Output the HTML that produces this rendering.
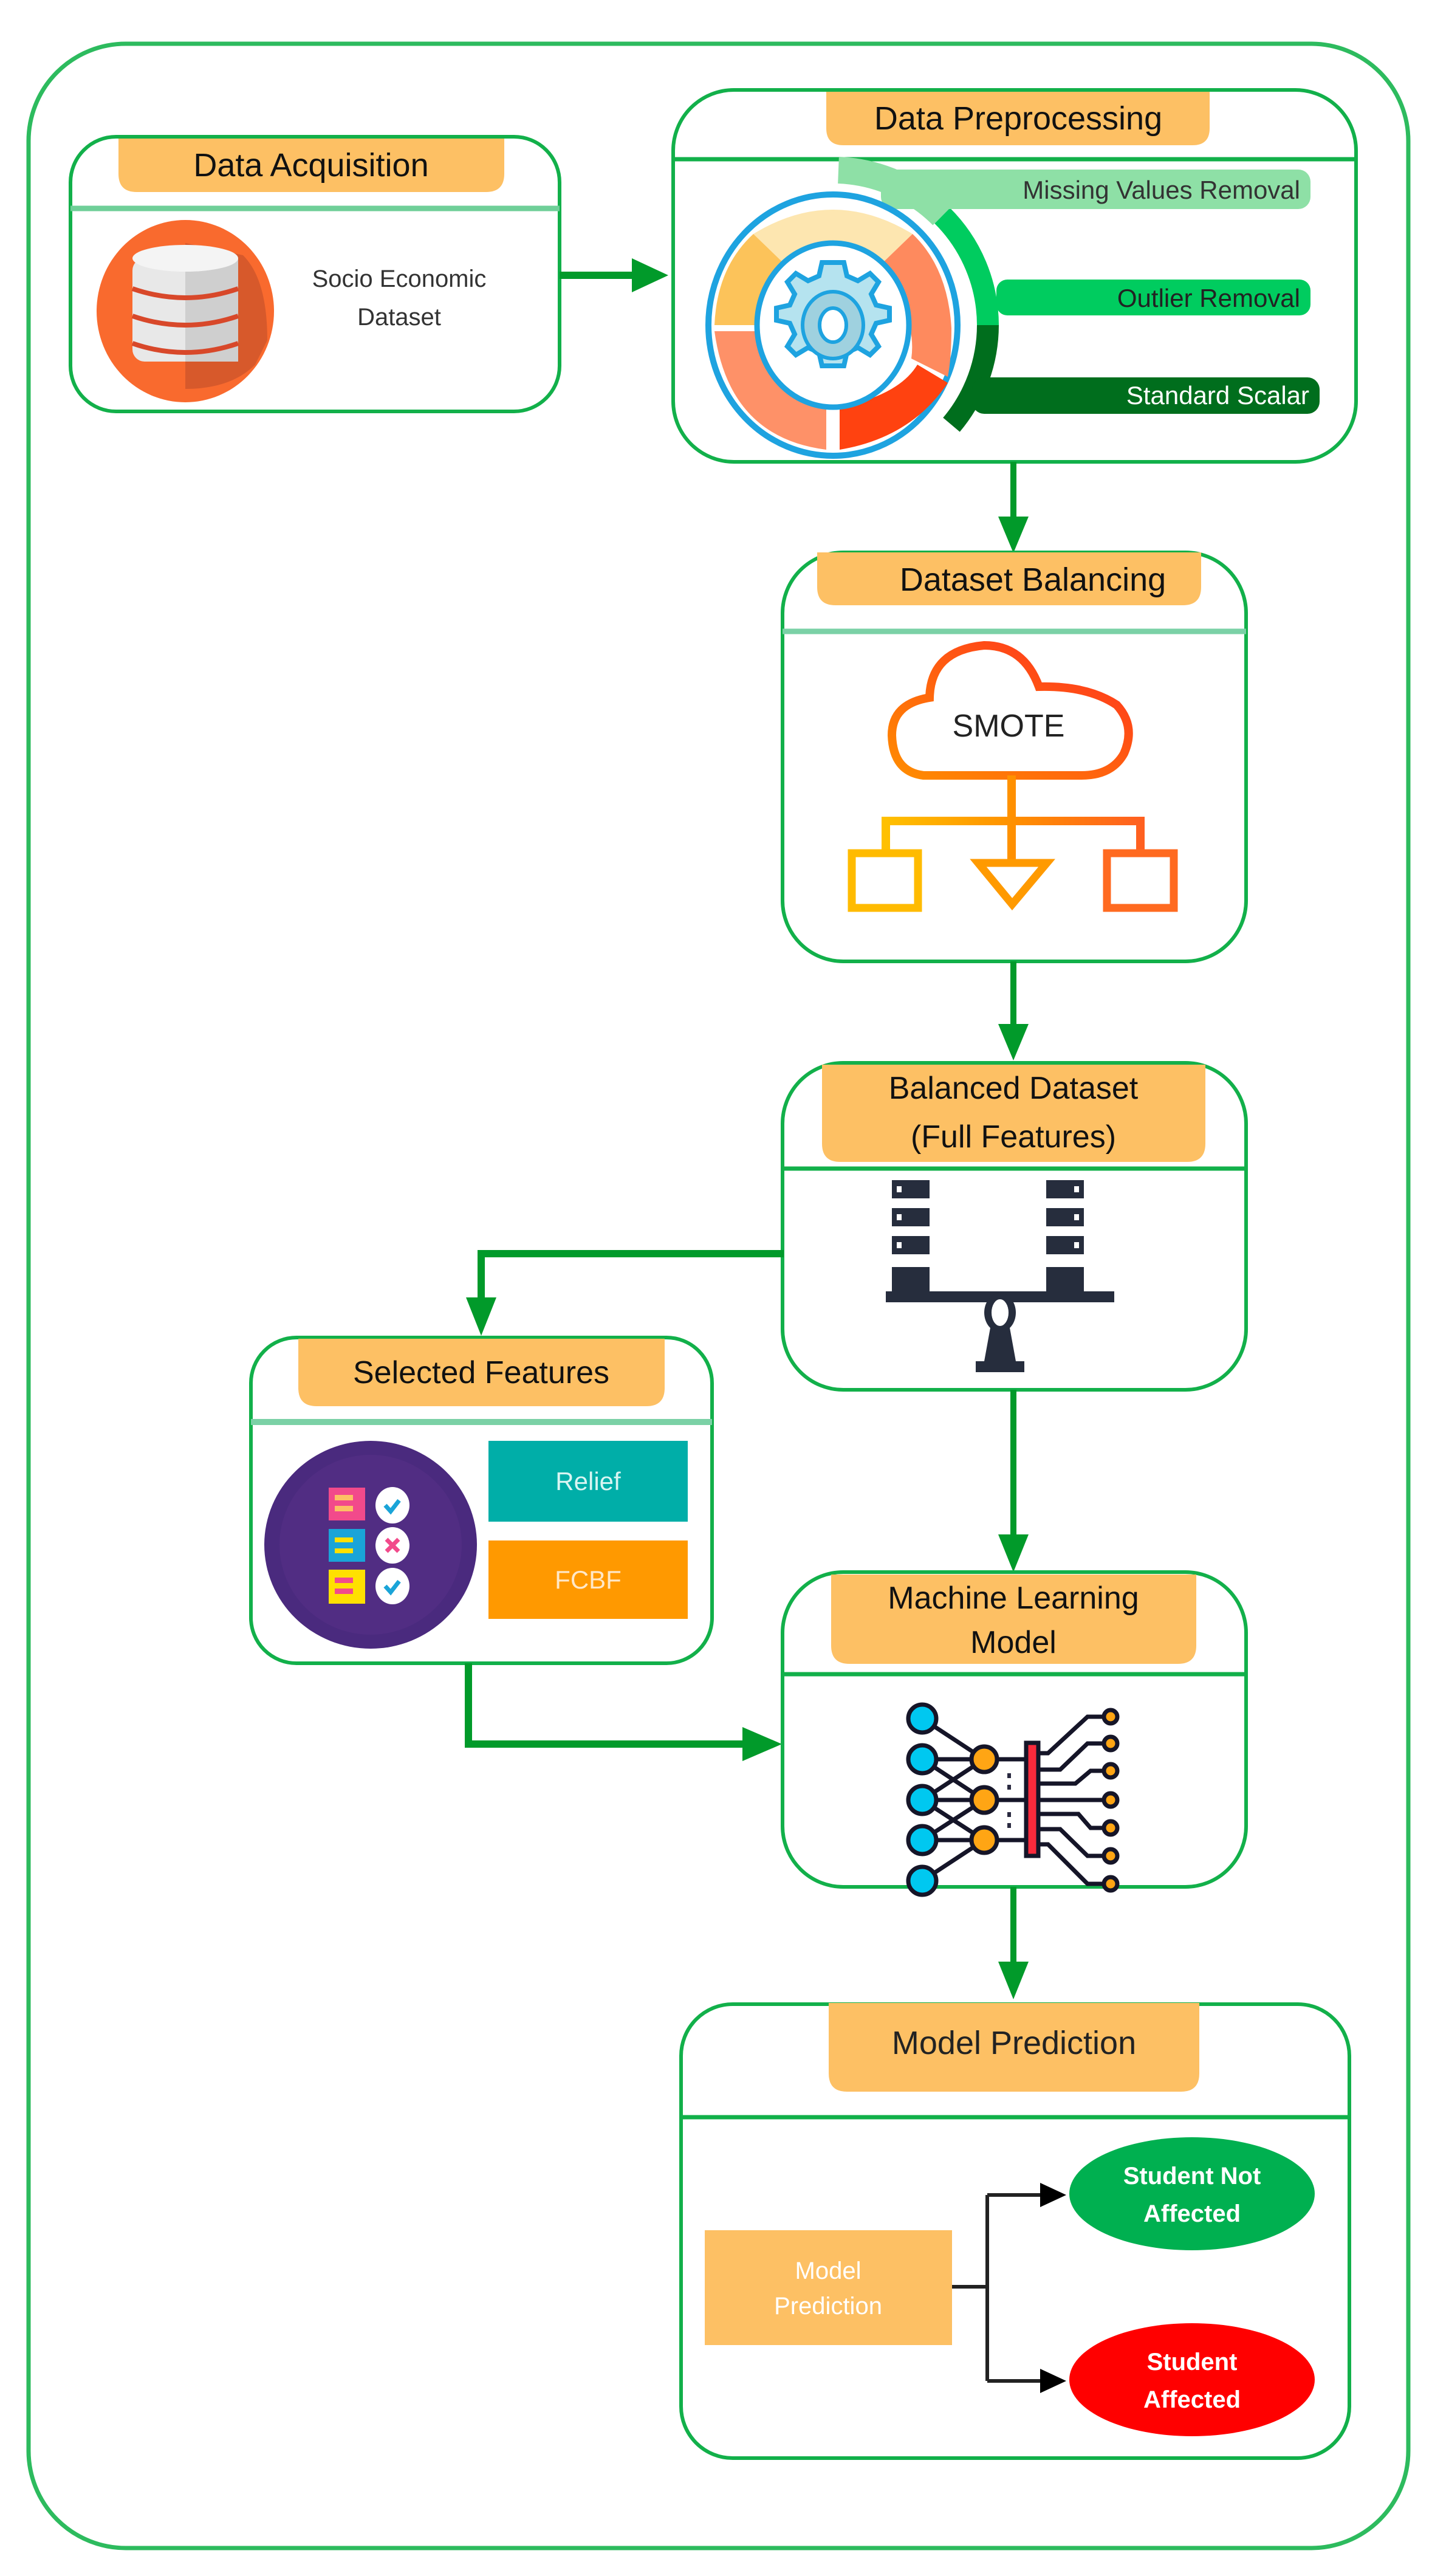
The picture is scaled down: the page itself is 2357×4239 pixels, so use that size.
<!DOCTYPE html>
<html><head><meta charset="utf-8"><style>
html,body{margin:0;padding:0;background:#fff}
svg{display:block}
text{font-family:"Liberation Sans",sans-serif}
</style></head><body>
<svg width="2357" height="4239" viewBox="0 0 2357 4239" xmlns="http://www.w3.org/2000/svg">
<defs>
<linearGradient id="cg" x1="0" y1="1" x2="1" y2="0"><stop offset="0" stop-color="#ff8c00"/><stop offset="1" stop-color="#ff3020"/></linearGradient>
<linearGradient id="tg" x1="0" y1="0" x2="1" y2="0"><stop offset="0" stop-color="#ffc000"/><stop offset="0.5" stop-color="#ff9000"/><stop offset="1" stop-color="#ff6020"/></linearGradient>
</defs>
<rect x="0" y="0" width="2357" height="4239" fill="#fff"/>
<!-- outer -->
<rect x="47" y="72" width="2271" height="4121" rx="160" fill="none" stroke="#2dbb5e" stroke-width="7"/>

<!-- Data Acquisition -->
<rect x="116" y="225" width="805" height="452" rx="75" fill="#fff" stroke="#12b04a" stroke-width="6"/>
<line x1="116" y1="343" x2="921" y2="343" stroke="#6fcf98" stroke-width="9"/>
<path d="M195,228 H830 V286 Q830,316 800,316 H225 Q195,316 195,286 Z" fill="#fdc064"/>
<text x="512" y="290" font-size="54" text-anchor="middle" fill="#111">Data Acquisition</text>
<ellipse cx="305" cy="512" rx="146" ry="150" fill="#f96a2e"/>
<path d="M305,400 V640 Q380,640 420,600 L440,560 Q440,460 400,420 Z" fill="#c9522b" opacity="0.7"/>
<g>
<rect x="218" y="425" width="174" height="170" rx="20" fill="#e8e8e8"/>
<rect x="305" y="425" width="87" height="170" fill="#cfcfcf"/>
<ellipse cx="305" cy="425" rx="87" ry="22" fill="#f4f4f4"/>
<path d="M218,475 Q305,505 392,475" stroke="#d8482a" stroke-width="8" fill="none"/>
<path d="M218,520 Q305,550 392,520" stroke="#d8482a" stroke-width="8" fill="none"/>
<path d="M218,565 Q305,595 392,565" stroke="#d8482a" stroke-width="8" fill="none"/>
</g>
<text x="657" y="472" font-size="40" text-anchor="middle" fill="#333">Socio Economic</text>
<text x="657" y="535" font-size="40" text-anchor="middle" fill="#333">Dataset</text>
<line x1="921" y1="453" x2="1045" y2="453" stroke="#019a2a" stroke-width="12"/>
<path d="M1040,425 L1100,453 L1040,481 Z" fill="#019a2a"/>

<!-- Data Preprocessing -->
<rect x="1108" y="148" width="1124" height="612" rx="100" fill="#fff" stroke="#12b04a" stroke-width="6"/>
<line x1="1108" y1="262" x2="2232" y2="262" stroke="#12b04a" stroke-width="7"/>
<path d="M1360,151 H1991 V211 Q1991,239 1963,239 H1388 Q1360,239 1360,211 Z" fill="#fdc064"/>
<text x="1676" y="213" font-size="54" text-anchor="middle" fill="#111">Data Preprocessing</text>
<!-- arcs -->
<path d="M1380,280 A255,255 0 0 1 1551,355" stroke="#8ee0a6" stroke-width="44" fill="none"/>
<path d="M1551,355 A255,255 0 0 1 1626,535" stroke="#00cc5f" stroke-width="36" fill="none"/>
<path d="M1626,535 A255,255 0 0 1 1566,699" stroke="#006e1d" stroke-width="36" fill="none"/>
<!-- bars -->
<rect x="1450" y="279" width="707" height="65" rx="20" fill="#8ee0a6"/>
<text x="2140" y="327" font-size="42" text-anchor="end" fill="#333">Missing Values Removal</text>
<rect x="1640" y="460" width="517" height="59" rx="18" fill="#00cc5f"/>
<text x="2140" y="505" font-size="42" text-anchor="end" fill="#222">Outlier Removal</text>
<rect x="1600" y="621" width="572" height="60" rx="20" fill="#006e1d"/>
<text x="2155" y="665" font-size="42" text-anchor="end" fill="#fff">Standard Scalar</text>
<!-- gear donut -->
<ellipse cx="1371" cy="535" rx="205" ry="215" fill="#fff" stroke="#1ea3e0" stroke-width="10"/>
<path d="M1240,385 Q1371,305 1502,385 L1445,440 Q1371,395 1297,440 Z" fill="#fde6b0"/>
<path d="M1240,385 L1297,440 Q1245,495 1250,535 H1176 Q1180,440 1240,385 Z" fill="#fcc35a"/>
<path d="M1176,545 H1250 Q1260,640 1360,670 V740 Q1200,720 1176,545 Z" fill="#fe9168"/>
<path d="M1382,670 Q1480,650 1510,600 L1560,630 Q1500,720 1382,740 Z" fill="#ff4210"/>
<path d="M1502,385 Q1560,440 1566,540 Q1566,590 1560,620 L1500,590 Q1510,520 1445,440 Z" fill="#fe8a5e"/>
<ellipse cx="1371" cy="535" rx="125" ry="135" fill="#fff" stroke="#1ea3e0" stroke-width="9"/>
<path d="M1371,432 l18,0 5,22 18,8 20,-12 14,14 -12,20 8,18 22,5 0,20 -22,5 -8,18 12,20 -14,14 -20,-12 -18,8 -5,22 -18,0 -18,0 -5,-22 -18,-8 -20,12 -14,-14 12,-20 -8,-18 -22,-5 0,-20 22,-5 8,-18 -12,-20 14,-14 20,12 18,-8 5,-22 Z" fill="#b5e3ef" stroke="#1ea3e0" stroke-width="8"/>
<ellipse cx="1371" cy="535" rx="50" ry="55" fill="#9fd1df" stroke="#1ea3e0" stroke-width="6"/>
<ellipse cx="1371" cy="535" rx="22" ry="28" fill="#fff" stroke="#1ea3e0" stroke-width="6"/>
<line x1="1668" y1="760" x2="1668" y2="860" stroke="#019a2a" stroke-width="10"/>
<path d="M1643,850 L1668,910 L1693,850 Z" fill="#019a2a"/>

<!-- Dataset Balancing -->
<rect x="1288" y="909" width="763" height="673" rx="100" fill="#fff" stroke="#12b04a" stroke-width="6"/>
<line x1="1288" y1="1039" x2="2051" y2="1039" stroke="#7bd1a6" stroke-width="9"/>
<path d="M1345,909 H1977 V966 Q1977,996 1947,996 H1375 Q1345,996 1345,966 Z" fill="#fdc064"/>
<text x="1700" y="972" font-size="54" text-anchor="middle" fill="#111">Dataset Balancing</text>
<path d="M1520,1276 Q1470,1270 1468,1210 Q1468,1158 1530,1148 Q1532,1070 1620,1062 Q1685,1062 1710,1130 Q1790,1128 1838,1160 Q1870,1195 1850,1240 Q1830,1276 1780,1276 Z" fill="#fff" stroke="url(#cg)" stroke-width="14"/>
<text x="1660" y="1212" font-size="52" text-anchor="middle" fill="#222">SMOTE</text>
<path d="M1665,1276 V1420 M1458,1404 V1351 H1877 V1404" stroke="url(#tg)" stroke-width="14" fill="none"/>
<rect x="1402" y="1404" width="109" height="90" fill="none" stroke="#ffbb00" stroke-width="13"/>
<path d="M1610,1420 H1723 L1666,1488 Z" fill="none" stroke="#ff9a00" stroke-width="13"/>
<rect x="1822" y="1404" width="110" height="90" fill="none" stroke="#ff6a20" stroke-width="13"/>
<line x1="1668" y1="1582" x2="1668" y2="1695" stroke="#019a2a" stroke-width="10"/>
<path d="M1643,1685 L1668,1745 L1693,1685 Z" fill="#019a2a"/>

<!-- Balanced Dataset -->
<rect x="1288" y="1749" width="763" height="538" rx="100" fill="#fff" stroke="#12b04a" stroke-width="6"/>
<line x1="1288" y1="1923" x2="2051" y2="1923" stroke="#12b04a" stroke-width="7"/>
<path d="M1353,1752 H1984 V1882 Q1984,1912 1954,1912 H1383 Q1353,1912 1353,1882 Z" fill="#fdc064"/>
<text x="1668" y="1808" font-size="52" text-anchor="middle" fill="#111">Balanced Dataset</text>
<text x="1668" y="1888" font-size="52" text-anchor="middle" fill="#111">(Full Features)</text>
<g fill="#262d3d">
<rect x="1468" y="1942" width="62" height="30"/><rect x="1468" y="1988" width="62" height="30"/><rect x="1468" y="2034" width="62" height="30"/>
<rect x="1722" y="1942" width="62" height="30"/><rect x="1722" y="1988" width="62" height="30"/><rect x="1722" y="2034" width="62" height="30"/>
<rect x="1468" y="2085" width="62" height="40"/><rect x="1722" y="2085" width="62" height="40"/>
<rect x="1458" y="2125" width="376" height="18"/>
<ellipse cx="1646" cy="2160" rx="26" ry="32"/>
<path d="M1630,2185 H1662 L1672,2240 H1686 V2258 H1606 V2240 H1620 Z"/>
</g>
<g fill="#fff"><rect x="1476" y="1952" width="8" height="10"/><rect x="1476" y="1998" width="8" height="10"/><rect x="1476" y="2044" width="8" height="10"/>
<rect x="1768" y="1952" width="8" height="10"/><rect x="1768" y="1998" width="8" height="10"/><rect x="1768" y="2044" width="8" height="10"/>
<ellipse cx="1646" cy="2160" rx="14" ry="22"/></g>
<path d="M1290,2063 H792 V2140" stroke="#019a2a" stroke-width="12" fill="none"/>
<path d="M767,2135 L792,2198 L817,2135 Z" fill="#019a2a"/>
<line x1="1668" y1="2287" x2="1668" y2="2530" stroke="#019a2a" stroke-width="10"/>
<path d="M1643,2525 L1668,2587 L1693,2525 Z" fill="#019a2a"/>

<!-- Selected Features -->
<rect x="413" y="2201" width="759" height="536" rx="75" fill="#fff" stroke="#12b04a" stroke-width="6"/>
<line x1="413" y1="2340" x2="1172" y2="2340" stroke="#7bd1a6" stroke-width="10"/>
<path d="M491,2203 H1094 V2284 Q1094,2314 1064,2314 H521 Q491,2314 491,2284 Z" fill="#fdc064"/>
<text x="792" y="2276" font-size="52" text-anchor="middle" fill="#111">Selected Features</text>
<ellipse cx="610" cy="2542" rx="175" ry="171" fill="#4a2a7e"/>
<ellipse cx="610" cy="2542" rx="150" ry="148" fill="#512d83"/>
<rect x="541" y="2448" width="60" height="54" fill="#f24a8b"/><rect x="551" y="2460" width="30" height="9" fill="#fdc064"/><rect x="551" y="2478" width="30" height="9" fill="#fdc064"/>
<rect x="541" y="2516" width="60" height="54" fill="#1aa4d8"/><rect x="551" y="2530" width="30" height="8" fill="#ffe000"/><rect x="551" y="2548" width="30" height="8" fill="#ffe000"/>
<rect x="541" y="2583" width="60" height="56" fill="#ffe000"/><rect x="551" y="2596" width="30" height="9" fill="#f24a8b"/><rect x="551" y="2614" width="30" height="9" fill="#f24a8b"/>
<ellipse cx="646" cy="2477" rx="28" ry="30" fill="#fff"/><ellipse cx="646" cy="2543" rx="28" ry="30" fill="#fff"/><ellipse cx="646" cy="2610" rx="28" ry="30" fill="#fff"/>
<path d="M634,2477 l9,10 14,-18 M634,2610 l9,10 14,-18" stroke="#1aa4d8" stroke-width="7" fill="none"/>
<path d="M636,2533 l20,20 M656,2533 l-20,20" stroke="#f24a8b" stroke-width="7"/>
<rect x="804" y="2371" width="328" height="133" fill="#00aea8"/>
<text x="968" y="2452" font-size="42" text-anchor="middle" fill="#d8f5f2">Relief</text>
<rect x="804" y="2535" width="328" height="129" fill="#ff9900"/>
<text x="968" y="2614" font-size="42" text-anchor="middle" fill="#ffe8c8">FCBF</text>
<path d="M771,2737 V2870 H1230" stroke="#019a2a" stroke-width="12" fill="none"/>
<path d="M1222,2842 L1287,2870 L1222,2898 Z" fill="#019a2a"/>

<!-- ML Model -->
<rect x="1288" y="2587" width="763" height="518" rx="100" fill="#fff" stroke="#12b04a" stroke-width="6"/>
<line x1="1288" y1="2755" x2="2051" y2="2755" stroke="#12b04a" stroke-width="7"/>
<path d="M1368,2591 H1969 V2708 Q1969,2738 1939,2738 H1398 Q1368,2738 1368,2708 Z" fill="#fdc064"/>
<text x="1668" y="2647" font-size="52" text-anchor="middle" fill="#111">Machine Learning</text>
<text x="1668" y="2720" font-size="52" text-anchor="middle" fill="#111">Model</text>
<g stroke="#151528" stroke-width="7" fill="none">
<path d="M1518,2828 L1620,2895 M1518,2895 H1620 M1518,2895 L1620,2962 M1518,2962 L1620,2895 M1518,2962 H1620 M1518,2962 L1620,3028 M1518,3028 L1620,2962 M1518,3028 H1620 M1518,3095 L1620,3028 M1620,2895 H1690 M1620,2962 H1690 M1620,3028 H1690"/>
<path d="M1710,2885 H1725 L1790,2825 H1828 M1710,2912 H1745 L1790,2869 H1828 M1710,2935 H1770 L1795,2914 H1828 M1710,2962 H1828 M1710,2985 H1775 L1795,3008 H1828 M1710,3010 H1745 L1790,3054 H1828 M1710,3035 H1725 L1790,3100 H1828"/>
</g>
<g fill="#00c8f0" stroke="#151528" stroke-width="7">
<circle cx="1518" cy="2828" r="23"/><circle cx="1518" cy="2895" r="23"/><circle cx="1518" cy="2962" r="23"/><circle cx="1518" cy="3028" r="23"/><circle cx="1518" cy="3095" r="23"/>
</g>
<g fill="#ffa514" stroke="#151528" stroke-width="7">
<circle cx="1620" cy="2895" r="21"/><circle cx="1620" cy="2962" r="21"/><circle cx="1620" cy="3028" r="21"/>
<circle cx="1828" cy="2825" r="11"/><circle cx="1828" cy="2869" r="11"/><circle cx="1828" cy="2914" r="11"/><circle cx="1828" cy="2962" r="11"/><circle cx="1828" cy="3008" r="11"/><circle cx="1828" cy="3054" r="11"/><circle cx="1828" cy="3100" r="11"/>
</g>
<rect x="1689" y="2868" width="20" height="186" fill="#fb2a3c" stroke="#151528" stroke-width="7"/>
<g fill="#2a2a40"><rect x="1658" y="2918" width="6" height="8"/><rect x="1658" y="2937" width="6" height="8"/><rect x="1658" y="2982" width="6" height="8"/><rect x="1658" y="3000" width="6" height="8"/></g>
<line x1="1668" y1="3105" x2="1668" y2="3235" stroke="#019a2a" stroke-width="10"/>
<path d="M1643,3228 L1668,3290 L1693,3228 Z" fill="#019a2a"/>

<!-- Model Prediction -->
<rect x="1121" y="3298" width="1100" height="747" rx="85" fill="#fff" stroke="#12b04a" stroke-width="6"/>
<line x1="1121" y1="3484" x2="2221" y2="3484" stroke="#12b04a" stroke-width="7"/>
<path d="M1364,3296 H1974 V3412 Q1974,3442 1944,3442 H1394 Q1364,3442 1364,3412 Z" fill="#fdc064"/>
<text x="1669" y="3380" font-size="54" text-anchor="middle" fill="#222">Model Prediction</text>
<rect x="1160" y="3670" width="407" height="189" fill="#fdc064"/>
<text x="1363" y="3750" font-size="40" text-anchor="middle" fill="#fff">Model</text>
<text x="1363" y="3808" font-size="40" text-anchor="middle" fill="#fff">Prediction</text>
<path d="M1567,3763 H1625 M1625,3612 V3918 M1625,3612 H1720 M1625,3918 H1720" stroke="#222" stroke-width="6" fill="none"/>
<path d="M1712,3592 L1755,3612 L1712,3632 Z M1712,3898 L1755,3918 L1712,3938 Z" fill="#000"/>
<ellipse cx="1962" cy="3610" rx="202" ry="93" fill="#00b050"/>
<text x="1962" y="3594" font-size="40" text-anchor="middle" fill="#fff" font-weight="bold">Student Not</text>
<text x="1962" y="3656" font-size="40" text-anchor="middle" fill="#fff" font-weight="bold">Affected</text>
<ellipse cx="1962" cy="3916" rx="202" ry="93" fill="#ff0000"/>
<text x="1962" y="3900" font-size="40" text-anchor="middle" fill="#fff" font-weight="bold">Student</text>
<text x="1962" y="3962" font-size="40" text-anchor="middle" fill="#fff" font-weight="bold">Affected</text>
</svg>
</body></html>
